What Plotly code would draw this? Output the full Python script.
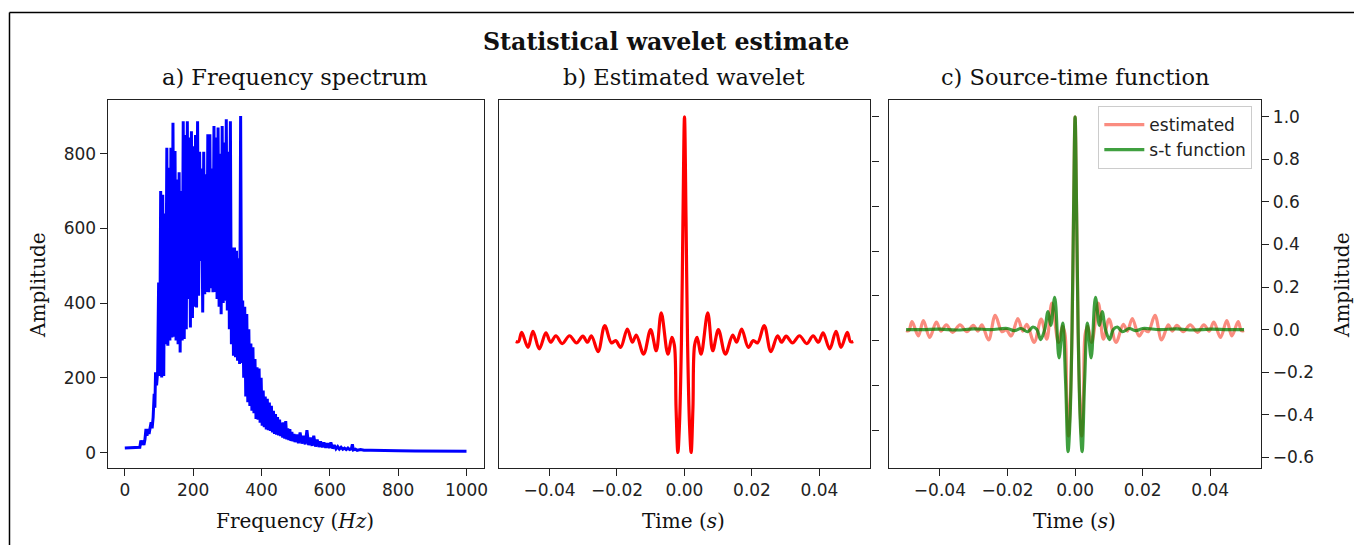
import plotly.graph_objects as go

# page body has an 8px margin: figure drawn at (8, 8) in the 1362x545 window
OFF = 8
W, H = 1362 - OFF, 545 - OFF

# ---------------- data: a) frequency spectrum (read from picture) ----------------
freq_hz = [0, 10, 20, 30, 40, 44, 47, 50, 53, 56, 59, 62, 65, 68, 71, 74, 77, 80, 83, 86, 88, 90, 93, 96, 99,
           102, 105, 108, 111, 114, 117, 120, 123, 126, 129, 132, 135, 138, 141, 144, 147, 150, 153, 156, 159,
           162, 165, 168, 171, 174, 177, 180, 183, 186, 189, 192, 195, 198, 201, 204, 207, 210, 213, 216, 219,
           222, 225, 228, 231, 234, 237, 240, 243, 246, 249, 252, 255, 258, 261, 264, 267, 270, 273, 276, 279,
           282, 285, 288, 291, 294, 297, 300, 303, 306, 309, 312, 315, 318, 321, 324, 327, 330, 333, 336, 339,
           342, 345, 348, 351, 354, 357, 360, 363, 366, 369, 372, 375, 378, 381, 384, 387, 390, 393, 396, 399,
           402, 405, 408, 411, 414, 417, 420, 423, 426, 429, 432, 435, 438, 441, 444, 447, 450, 453, 456, 459,
           462, 465, 468, 471, 474, 477, 480, 483, 486, 489, 492, 495, 498,
           503, 508, 513, 518, 523, 528, 533, 538, 543, 548, 553, 558, 563, 568, 573, 578, 583, 588, 593, 598,
           603, 608, 613, 618, 623, 628, 633, 638, 643, 648, 653, 658, 663, 666, 669, 675, 680, 690, 700,
           720, 750, 800, 850, 900, 950, 1000]
spectrum_amp = [12, 12, 12, 12, 13, 14, 32, 25, 28, 20, 35, 63, 45, 63, 50, 70, 81, 65, 95, 157, 120, 215, 180, 215, 455,
                205, 700, 201, 690, 205, 640, 290, 816, 286, 762, 300, 816, 308, 883, 310, 807, 300, 731, 290, 750,
                268, 700, 300, 887, 304, 850, 330, 887, 411, 843, 335, 860, 360, 820, 390, 850, 388, 887, 420, 805,
                513, 760, 375, 805, 424, 745, 430, 852, 429, 852, 440, 760, 429, 874, 430, 843, 411, 870, 390, 800,
                370, 874, 400, 830, 406, 892, 380, 805, 330, 887, 290, 549, 259, 549, 255, 540, 246, 520, 237, 901,
                240, 407, 200, 390, 150, 371, 135, 330, 125, 292, 112, 282, 105, 250, 90, 228, 88, 225, 80, 200,
                72, 166, 68, 150, 62, 144, 60, 134, 58, 125, 54, 112, 50, 103, 48, 95, 46, 88, 44, 80,
                40, 81, 37, 84, 35, 65, 33, 63, 31, 55, 30, 50, 28,
                48, 25, 54, 24, 45, 22, 60, 20, 40, 18, 45, 16, 35, 15, 30, 14, 27, 13, 25, 12,
                27, 11, 20, 10, 16, 9, 14, 9, 12, 8, 12, 8, 10, 22, 7, 9, 6, 8, 6,
                6, 5, 4.5, 4, 4, 3.5, 3.5]

# ---------------- data: b) estimated wavelet, t >= 0 half (zero-phase, symmetric) ----------------
wav_t_half = [0, 0.00045, 0.0009, 0.0015, 0.00197, 0.0025, 0.003, 0.00374, 0.00492, 0.00689, 0.00837,
              0.01004, 0.01211, 0.01428, 0.01546, 0.01694, 0.01891, 0.02038, 0.02166, 0.02363, 0.0256,
              0.02757, 0.02875, 0.03013, 0.032, 0.03407, 0.03624, 0.03811, 0.03968, 0.04106, 0.04303,
              0.0449, 0.04638, 0.04825, 0.0492, 0.05]
wav_amp_half = [1.0, 0.55, 0.0, -0.38, -0.5, -0.3, -0.02, 0.015, -0.06, 0.124, -0.045,
                0.049, -0.06, 0.025, -0.007, 0.052, -0.03, 0.0, -0.01, 0.067, -0.049,
                0.022, -0.007, 0.02, -0.01, 0.022, -0.013, 0.022, -0.007, 0.035, -0.037,
                0.042, -0.03, 0.037, -0.005, -0.004]

# ---------------- data: c) source-time function, t >= 0 half ----------------
stf_t_half = [0, 0.00045, 0.0009, 0.0015, 0.00208, 0.0028, 0.00366, 0.00475, 0.00603, 0.0072, 0.0080,
              0.0090, 0.0102, 0.0113, 0.0125, 0.014, 0.016, 0.018, 0.02, 0.025, 0.03, 0.035, 0.04, 0.045, 0.05]
stf_amp_half = [1.0, 0.55, 0.0, -0.42, -0.573, -0.25, 0.031, -0.133, 0.151, 0.02, 0.085,
                0.0, -0.047, 0.0, 0.012, -0.01, 0.005, -0.005, 0.005, 0.0, 0.003, -0.002, 0.002, 0.0, 0.0]


def mirror(t_half, a_half):
    t = [-v for v in reversed(t_half[1:])] + list(t_half)
    a = list(reversed(a_half[1:])) + list(a_half)
    return t, a


wav_t, wav_amp = mirror(wav_t_half, wav_amp_half)
stf_t, stf_amp = mirror(stf_t_half, stf_amp_half)


# ---------------- figure (positions given in window pixels) ----------------
def px(x):
    return (x - OFF) / W


def py(y):
    return 1 - (y - OFF) / H


ytop, ybot = 99.5, 467.5
dom_y = [py(ybot), py(ytop)]

fig = go.Figure()
fig.add_trace(go.Scatter(x=freq_hz, y=spectrum_amp, mode="lines", line=dict(color="#0000ff", width=3),
                         showlegend=False, xaxis="x", yaxis="y"))
fig.add_trace(go.Scatter(x=wav_t, y=wav_amp, mode="lines", line=dict(color="#ff0000", width=3.2, shape="spline"),
                         showlegend=False, xaxis="x2", yaxis="y2"))
fig.add_trace(go.Scatter(x=wav_t, y=wav_amp, mode="lines", name="estimated",
                         line=dict(color="salmon", width=3.2, shape="spline"), opacity=0.9,
                         xaxis="x3", yaxis="y3"))
fig.add_trace(go.Scatter(x=stf_t, y=stf_amp, mode="lines", name="s-t function",
                         line=dict(color="green", width=3.2, shape="spline"), opacity=0.75,
                         xaxis="x3", yaxis="y3"))

tickfont = dict(family="DejaVu Sans", size=17, color="#222222")
axcommon = dict(showline=True, linecolor="#222222", linewidth=1.3, mirror=True, ticks="outside",
                ticklen=7, tickwidth=1.3, tickcolor="#222222", showgrid=False, zeroline=False,
                tickfont=tickfont)
tneg = ["\u22120.04", "\u22120.02", "0.00", "0.02", "0.04"]

fig.update_layout(
    width=W, height=H, margin=dict(l=0, r=0, t=0, b=0), plot_bgcolor="white", paper_bgcolor="white",
    xaxis=dict(domain=[px(108), px(485)], range=[-50, 1050], tickvals=[0, 200, 400, 600, 800, 1000],
               anchor="y", **axcommon),
    yaxis=dict(domain=dom_y, range=[-40, 945], tickvals=[0, 200, 400, 600, 800], anchor="x", **axcommon),
    xaxis2=dict(domain=[px(500), px(873)], range=[-0.0551, 0.0551],
                tickvals=[-0.04, -0.02, 0, 0.02, 0.04], ticktext=tneg, anchor="y2", **axcommon),
    yaxis2=dict(domain=dom_y, range=[-0.567, 1.078], tickvals=[-0.4, -0.2, 0, 0.2, 0.4, 0.6, 0.8, 1.0],
                showticklabels=False, side="right", anchor="x2", **axcommon),
    xaxis3=dict(domain=[px(891.5), px(1265)], range=[-0.0551, 0.0551],
                tickvals=[-0.04, -0.02, 0, 0.02, 0.04], ticktext=tneg, anchor="y3", **axcommon),
    yaxis3=dict(domain=dom_y, range=[-0.648, 1.081], tickvals=[-0.6, -0.4, -0.2, 0, 0.2, 0.4, 0.6, 0.8, 1.0],
                ticktext=["\u22120.6", "\u22120.4", "\u22120.2", "0.0", "0.2", "0.4", "0.6", "0.8", "1.0"],
                side="right", anchor="x3", **axcommon),
    legend=dict(x=px(1256), y=py(106), xanchor="right", yanchor="top", bgcolor="rgba(255,255,255,0.8)",
                bordercolor="#cccccc", borderwidth=1, itemwidth=40,
                font=dict(family="DejaVu Sans", size=17, color="#222222")),
)

serif = "DejaVu Serif"
ann = [
    ("<b>Statistical wavelet estimate</b>", 668, 42, 23.7, 0),
    ("a) Frequency spectrum", 296, 77, 22.5, 0),
    ("b) Estimated wavelet", 686, 77, 22.5, 0),
    ("c) Source-time function", 1078, 77, 22.5, 0),
    ("Frequency (<i>Hz</i>)", 296, 521, 20, 0),
    ("Time (<i>s</i>)", 686, 521, 20, 0),
    ("Time (<i>s</i>)", 1078, 521, 20, 0),
    ("Amplitude", 38, 285, 20, -90),
    ("Amplitude", 1346, 285, 20, -90),
]
for text, x, y, size, ang in ann:
    fig.add_annotation(text=text, x=px(x), y=py(y), xref="paper", yref="paper", showarrow=False,
                       xanchor="center", yanchor="middle", textangle=ang,
                       font=dict(family=serif, size=size, color="#111111"))

# figure frame (left and top edges visible)
fig.add_shape(type="line", xref="paper", yref="paper", x0=px(9.5), x1=px(9.5), y0=0, y1=py(12.5),
              line=dict(color="black", width=1.5))
fig.add_shape(type="line", xref="paper", yref="paper", x0=px(9.5), x1=1, y0=py(12.5), y1=py(12.5),
              line=dict(color="black", width=1.5))

fig.write_html("out.html")
